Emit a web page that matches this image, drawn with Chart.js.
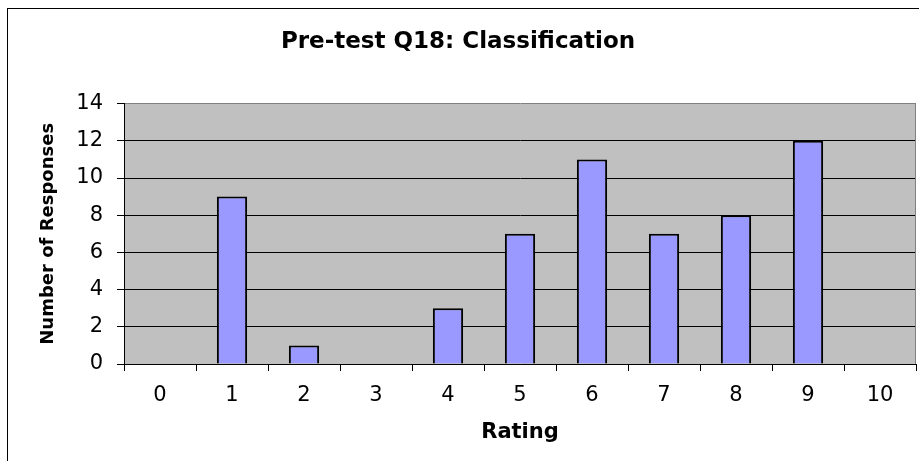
<!DOCTYPE html>
<html>
<head>
<meta charset="utf-8">
<script src="https://cdn.jsdelivr.net/npm/chart.js@4.4.1/dist/chart.umd.min.js"></script>
<style>
  html, body { margin: 0; padding: 0; background: #fff; overflow: hidden; }
  #wrap { position: relative; width: 919px; height: 461px; overflow: hidden; }
  #frame { position: absolute; left: 7px; top: 8px; width: 1000px; height: 600px; border: 1px solid #000; }
  #chart { position: absolute; left: 0; top: 0; }
</style>
</head>
<body>
<div id="wrap">
  <div id="frame"></div>
  <canvas id="chart" width="940" height="461"></canvas>
</div>
<script>
// data
const ratings = ["0", "1", "2", "3", "4", "5", "6", "7", "8", "9", "10"];
const responses = [0, 9, 1, 0, 3, 7, 11, 7, 8, 12, 0];

const FONT = "'DejaVu Sans', 'Liberation Sans', Arial, sans-serif";

// gray plot area + gray right edge, like the old spreadsheet chart
const plotArea = {
  id: "plotArea",
  beforeDraw(chart) {
    const { ctx, chartArea: a } = chart;
    ctx.save();
    ctx.fillStyle = "#C0C0C0";
    ctx.fillRect(a.left, a.top, a.right - a.left, a.bottom - a.top);
    ctx.restore();
  },
  afterDraw(chart) {
    const { ctx, chartArea: a } = chart;
    ctx.save();
    ctx.strokeStyle = "#808080";
    ctx.lineWidth = 1;
    ctx.beginPath();
    ctx.moveTo(Math.round(a.right) - 0.5, a.top);
    ctx.lineTo(Math.round(a.right) - 0.5, a.bottom);
    ctx.stroke();
    ctx.restore();
  },
};

new Chart(document.getElementById("chart"), {
  type: "bar",
  data: {
    labels: ratings,
    datasets: [
      {
        data: responses,
        backgroundColor: "#9999FF",
        borderColor: "#000000",
        borderWidth: 2,
        barPercentage: 0.42,
        categoryPercentage: 1,
      },
    ],
  },
  options: {
    responsive: false,
    animation: false,
    devicePixelRatio: 1,
    layout: { padding: { left: 0, right: 24, top: 0, bottom: 0 } },
    plugins: {
      legend: { display: false },
      tooltip: { enabled: false },
      title: {
        display: true,
        text: "Pre-test Q18: Classification",
        color: "#000",
        font: { family: FONT, size: 23, weight: "bold" },
        padding: { top: 28, bottom: 48 },
      },
    },
    scales: {
      x: {
        afterFit: (s) => { s.height = 97; },
        grid: {
          drawOnChartArea: false,
          drawTicks: true,
          tickLength: 7,
          tickColor: "#000",
          offset: true,
        },
        border: { color: "#000", width: 1 },
        ticks: {
          color: "#000",
          padding: 12,
          font: { family: FONT, size: 21 },
          maxRotation: 0,
        },
        title: {
          display: true,
          text: "Rating",
          color: "#000",
          font: { family: FONT, size: 21, weight: "bold" },
          padding: { top: 0, bottom: 16 },
        },
      },
      y: {
        min: 0,
        max: 14,
        afterFit: (s) => { s.width = 124; },
        grid: {
          color: (c) => (c.tick && c.tick.value === 14 ? "#808080" : "#000"),
          tickColor: "#000",
          tickLength: 7,
        },
        border: { color: "#000", width: 1 },
        ticks: {
          stepSize: 2,
          color: "#000",
          padding: 14,
          font: { family: FONT, size: 21 },
        },
        title: {
          display: true,
          text: "Number of Responses",
          color: "#000",
          font: { family: FONT, size: 18, weight: "bold" },
          padding: { top: 38, bottom: 0 },
        },
      },
    },
  },
  plugins: [plotArea],
});
</script>
</body>
</html>
